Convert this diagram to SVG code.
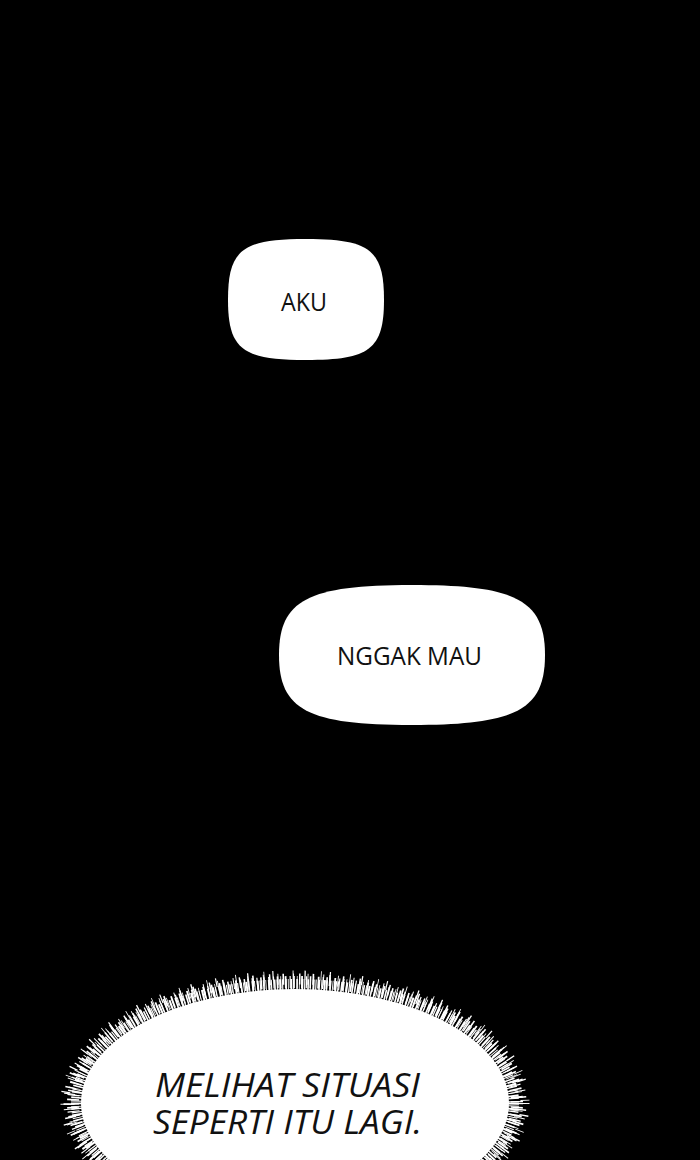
<svg xmlns="http://www.w3.org/2000/svg" width="700" height="1160" viewBox="0 0 700 1160">
<style>
.bubble{fill:#ffffff}
.t{font-family:"Open Sans","Noto Sans","DejaVu Sans",sans-serif;fill:#111111}
.hair{fill:none;stroke:#ffffff}
</style>
<rect x="0" y="0" width="700" height="1160" fill="#000000"/>
<g id="bubble-aku">
<path class="bubble" d="M228,299.5 C228,250 242,239 306,239 C370,239 384,250 384,299.5 C384,349 370,360 306,360 C242,360 228,349 228,299.5Z"/>
<text class="t" x="304" y="311" font-size="26" text-anchor="middle" textLength="46" lengthAdjust="spacingAndGlyphs">AKU</text>
</g>
<g id="bubble-nggak-mau">
<path class="bubble" d="M279,655 C279,600 308,585 412,585 C516,585 545,600 545,655 C545,710 516,725 412,725 C308,725 279,710 279,655Z"/>
<text class="t" x="409.5" y="665" font-size="26" text-anchor="middle" textLength="145" lengthAdjust="spacingAndGlyphs">NGGAK MAU</text>
</g>
<g id="burst-melihat">
<ellipse class="bubble" cx="295" cy="1103" rx="214" ry="114"/>
<ellipse class="hair" cx="295" cy="1103" rx="218" ry="118" stroke-width="12" stroke-dasharray="1.6 1 0.9 1.6 2 0.8 1.2 2"/>
<ellipse class="hair" cx="295" cy="1103" rx="222" ry="121" stroke-width="12" stroke-dasharray="1.2 2.5 1.6 2 0.8 3.5 1.8 3"/>
<ellipse class="hair" cx="295" cy="1103" rx="226" ry="124" stroke-width="11" stroke-dasharray="1 5 1.5 7 0.9 4 1.6 9"/>
<ellipse class="hair" cx="295" cy="1103" rx="230" ry="128" stroke-width="9" stroke-dasharray="0.9 11 1.3 15 0.8 8 1.2 19"/>
<text class="t" font-size="33" font-style="italic" text-anchor="middle"><tspan x="287.5" y="1097" textLength="265" lengthAdjust="spacingAndGlyphs">MELIHAT SITUASI</tspan><tspan x="287.5" y="1134" textLength="269" lengthAdjust="spacingAndGlyphs">SEPERTI ITU LAGI.</tspan></text>
</g>
<g id="connectors"></g>
</svg>
